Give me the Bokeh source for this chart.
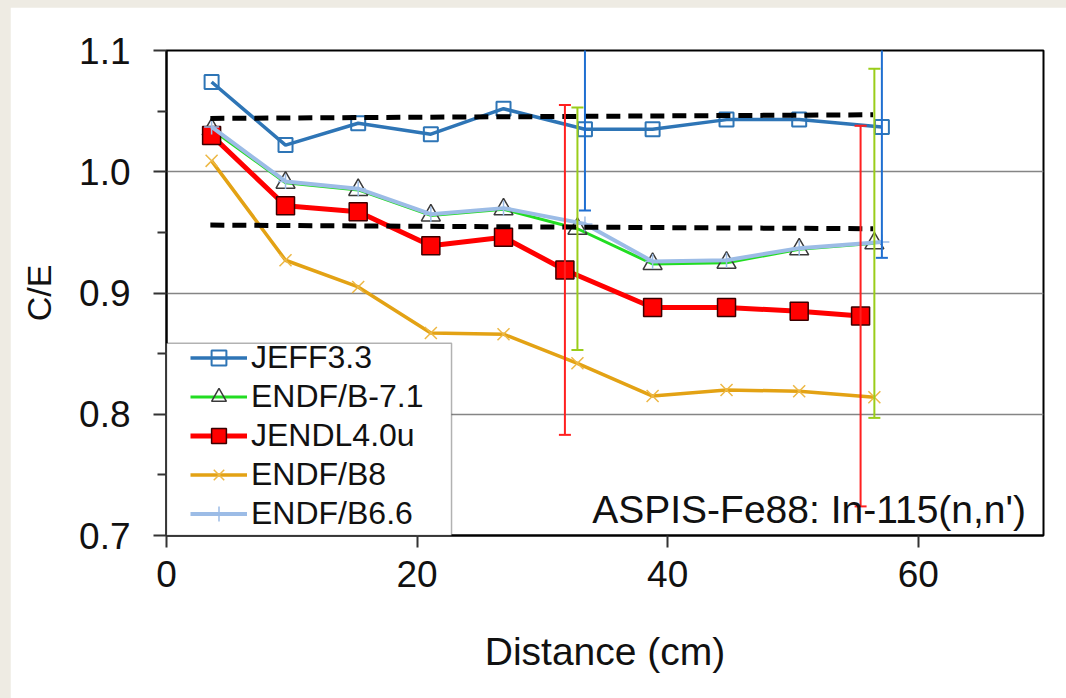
from bokeh.plotting import figure
from bokeh.models import FixedTicker, PrintfTickFormatter, Legend, LegendItem, Label, BoxAnnotation
from bokeh.embed import file_html
from bokeh.resources import INLINE

# ---------------- data ----------------
x_jeff = [3.6, 9.5, 15.3, 21.1, 26.9, 33.4, 38.8, 44.7, 50.5, 57.1]
x_endf71 = [3.6, 9.5, 15.3, 21.1, 26.9, 32.8, 38.8, 44.7, 50.5, 56.5]
x_jendl = [3.6, 9.5, 15.3, 21.1, 26.9, 31.8, 38.8, 44.7, 50.5, 55.4]
x_b8 = [3.6, 9.5, 15.3, 21.1, 26.9, 32.8, 38.8, 44.7, 50.5, 56.5]
x_b66 = [3.6, 9.5, 15.3, 21.1, 26.9, 33.4, 38.8, 44.7, 50.5, 57.1]

ce_jeff = [1.074, 1.022, 1.040, 1.031, 1.052, 1.035, 1.035, 1.043, 1.043, 1.037]
ce_endf71 = [1.035, 0.991, 0.985, 0.964, 0.969, 0.953, 0.924, 0.925, 0.936, 0.941]
ce_jendl = [1.030, 0.972, 0.967, 0.939, 0.946, 0.919, 0.888, 0.888, 0.885, 0.881]
ce_b8 = [1.009, 0.927, 0.905, 0.867, 0.866, 0.842, 0.815, 0.820, 0.819, 0.814]
ce_b66 = [1.037, 0.992, 0.986, 0.965, 0.970, 0.957, 0.926, 0.927, 0.937, 0.942]

# experimental uncertainty bars (index into series, +/- value)
err_idx = [5, 9]
err_jendl = [0.136, 0.157]
err_endf71 = [0.100, 0.144]
err_jeff = [0.067, 0.108]

# dashed +/- band
band_x = [3.5, 56.4]
band_upper = [1.044, 1.047]
band_lower = [0.956, 0.953]

x_ticks = [0, 20, 40, 60]
y_ticks = [0.7, 0.8, 0.9, 1.0, 1.1]
y_minor = [0.75, 0.85, 0.95, 1.05]
grid_ticks = [0.8, 0.9, 1.0]

note = "ASPIS-Fe88: In-115(n,n')"
note_x, note_y = 68.6, 0.7215

FONT = "Liberation Sans"

# ---------------- figure ----------------
p = figure(width=1056, height=691, x_range=(0, 70), y_range=(0.7, 1.1),
           output_backend="svg", toolbar_location=None, tools="")
p.min_border_left = 156
p.min_border_right = 23
p.min_border_top = 43
p.min_border_bottom = 163
p.background_fill_color = "white"
p.border_fill_color = "white"
p.outline_line_color = "black"
p.outline_line_width = 2

p.xgrid.visible = False
p.ygrid.ticker = FixedTicker(ticks=grid_ticks)
p.ygrid.grid_line_color = "#858585"
p.ygrid.grid_line_width = 1.5

p.xaxis.ticker = FixedTicker(ticks=x_ticks)
p.yaxis.ticker = FixedTicker(ticks=y_ticks, minor_ticks=y_minor)
p.yaxis.formatter = PrintfTickFormatter(format="%.1f")

for ax in (p.xaxis, p.yaxis):
    ax.axis_line_color = "black"
    ax.axis_line_width = 2
    ax.major_tick_line_color = "#333333"
    ax.major_tick_line_width = 2
    ax.minor_tick_line_color = "#333333"
    ax.minor_tick_line_width = 2
    ax.major_tick_in = 0
    ax.minor_tick_in = 0
    ax.major_label_text_font = FONT
    ax.major_label_text_font_size = "37px"
    ax.major_label_text_color = "#111111"
    ax.axis_label_text_font = FONT
    ax.axis_label_text_font_style = "normal"
    ax.axis_label_text_color = "#111111"

p.xaxis.major_tick_out = 12
p.xaxis.minor_tick_out = 0
p.xaxis.major_label_standoff = 13
p.xaxis.axis_label = "Distance (cm)"
p.xaxis.axis_label_text_font_size = "39px"
p.xaxis.axis_label_standoff = 40

p.yaxis.major_tick_out = 13
p.yaxis.minor_tick_out = 9
p.yaxis.major_label_standoff = 23
p.yaxis.axis_label = "C/E"
p.yaxis.axis_label_text_font_size = "34px"
p.yaxis.axis_label_standoff = 18

# ---------------- series ----------------
c_jeff = "#2E75B6"
c_71 = "#22DD22"
c_jendl = "#FF0000"
c_b8 = "#E3A214"
c_b66 = "#9CBCE6"

l_jeff = p.line(x_jeff, ce_jeff, line_color=c_jeff, line_width=3.5)
m_jeff = p.scatter(x_jeff, ce_jeff, marker="square", size=14, fill_alpha=0,
                   line_color=c_jeff, line_width=2)

l_71 = p.line(x_endf71, ce_endf71, line_color=c_71, line_width=3)
m_71 = p.scatter(x_endf71, ce_endf71, marker="triangle", size=19, fill_alpha=0,
                 line_color="#3a3a3a", line_width=1.5)

l_jendl = p.line(x_jendl, ce_jendl, line_color=c_jendl, line_width=5)
m_jendl = p.scatter(x_jendl, ce_jendl, marker="square", size=18, fill_color=c_jendl,
                    line_color="#3a0000", line_width=1.5)

l_b8 = p.line(x_b8, ce_b8, line_color=c_b8, line_width=3.5)
m_b8 = p.scatter(x_b8, ce_b8, marker="x", size=17, line_color="#EDB845", line_width=1.5)

l_b66 = p.line(x_b66, ce_b66, line_color=c_b66, line_width=4)
m_b66 = p.scatter(x_b66, ce_b66, marker="cross", size=15, line_color=c_b66, line_width=1.5)

# dashed band
p.line(band_x, band_upper, line_color="black", line_width=5, line_dash="14 8")
p.line(band_x, band_lower, line_color="black", line_width=5, line_dash="14 8")

# error bars
def err_bars(xs, ys, errs, color):
    ex = [xs[i] for i in err_idx]
    lo = [ys[i] - e for i, e in zip(err_idx, errs)]
    hi = [ys[i] + e for i, e in zip(err_idx, errs)]
    p.segment(ex, lo, ex, hi, line_color=color, line_width=2)
    p.scatter(ex, lo, marker="dash", size=12, line_color=color, line_width=2)
    p.scatter(ex, hi, marker="dash", size=12, line_color=color, line_width=2)

err_bars(x_jendl, ce_jendl, err_jendl, "#FF2020")
err_bars(x_endf71, ce_endf71, err_endf71, "#9ACD1A")
err_bars(x_jeff, ce_jeff, err_jeff, "#1F6FD1")

# note
p.add_layout(Label(x=note_x, y=note_y, text=note, text_align="right",
                   text_baseline="alphabetic", text_font=FONT,
                   text_font_size="39px", text_color="#111111"))

# legend frame (box in data space, lower-left corner of the plot area)
p.add_layout(BoxAnnotation(left=0, right=22.75, bottom=0.7, top=0.8585,
                           fill_color="white", fill_alpha=1,
                           line_color="black", line_width=1.5, level="annotation"))

legend = Legend(items=[
    LegendItem(label="JEFF3.3", renderers=[l_jeff, m_jeff]),
    LegendItem(label="ENDF/B-7.1", renderers=[l_71, m_71]),
    LegendItem(label="JENDL4.0u", renderers=[l_jendl, m_jendl]),
    LegendItem(label="ENDF/B8", renderers=[l_b8, m_b8]),
    LegendItem(label="ENDF/B6.6", renderers=[l_b66, m_b66]),
], location=(24, 3))
legend.label_text_font = FONT
legend.label_text_font_size = "32px"
legend.label_text_color = "#111111"
legend.glyph_width = 57
legend.glyph_height = 37
legend.label_height = 37
legend.spacing = 2
legend.padding = 0
legend.margin = 0
legend.label_standoff = 4
legend.border_line_alpha = 0
legend.background_fill_alpha = 0
p.add_layout(legend, "center")

html = file_html(p, INLINE)
html = html.replace(
    "</head>",
    "<style>html,body{margin:0 !important;overflow:hidden !important;}"
    "body{background:#eeebe3 !important;padding:7px 0 0 10px !important;"
    "box-sizing:border-box !important;}</style></head>", 1)
open("out.html", "w").write(html)
